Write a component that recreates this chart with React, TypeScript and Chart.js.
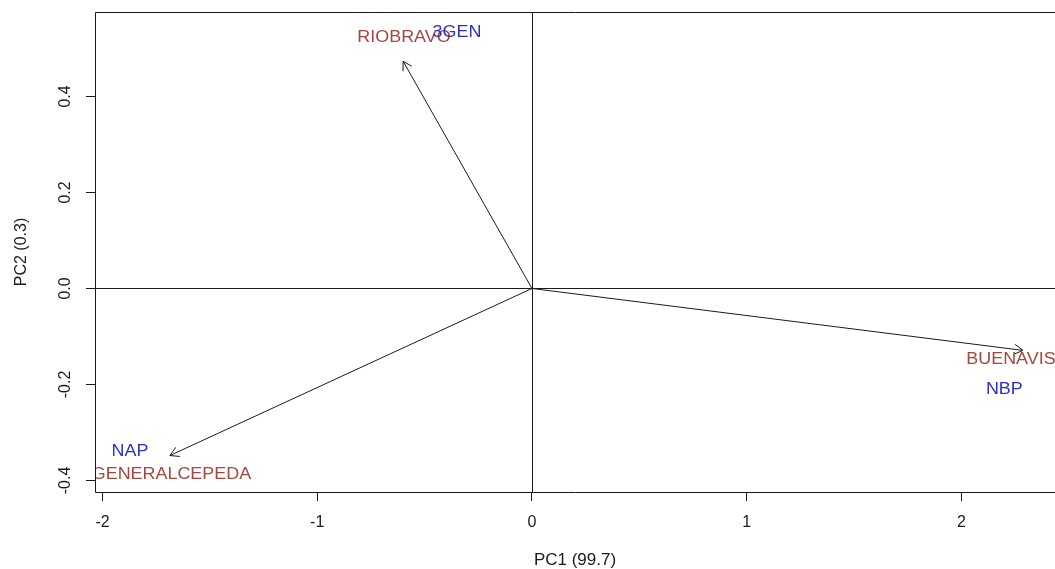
import React, { useEffect, useRef } from "react";
import { Chart, registerables } from "chart.js";

Chart.register(...registerables);

// Axis ranges and ticks
const xMin = -2.035;
const xMax = 2.436;
const yMin = -0.424;
const yMax = 0.576;
const xTicks = [-2, -1, 0, 1, 2];
const xTickLabels = ["-2", "-1", "0", "1", "2"];
const yTicks = [-0.4, -0.2, 0, 0.2, 0.4];
const yTickLabels = ["-0.4", "-0.2", "0.0", "0.2", "0.4"];
const xTitle = "PC1 (99.7)";
const yTitle = "PC2 (0.3)";

// Variables (arrows, brown labels)
const varNames = ["RIOBRAVO", "BUENAVISTA", "GENERALCEPEDA"];
const varX = [-0.6, 2.287, -1.686];
const varY = [0.4735, -0.129, -0.348];
const varLabelX = [-0.596, 2.281, -1.679];
const varLabelY = [0.525, -0.146, -0.386];

// Genotypes (blue labels)
const genoNames = ["3GEN", "NAP", "NBP"];
const genoX = [-0.349, -1.872, 2.2];
const genoY = [0.536, -0.3375, -0.208];

const FONT = "'Liberation Sans', Arial, Helvetica, sans-serif";
const BROWN = "#A5463F";
const BLUE = "#2F2FC0";
const INK = "#1a1a1a";
const STRETCH = 1.12;

const biplotPlugin = {
  id: "biplot",
  beforeDatasetsDraw(chart: any) {
    const { ctx, chartArea: a, scales } = chart;
    const x0 = scales.x.getPixelForValue(0);
    const y0 = scales.y.getPixelForValue(0);
    ctx.save();
    ctx.strokeStyle = INK;
    ctx.lineWidth = 1;
    ctx.beginPath();
    ctx.moveTo(Math.round(x0) + 0.5, a.top);
    ctx.lineTo(Math.round(x0) + 0.5, a.bottom);
    ctx.moveTo(a.left, Math.round(y0) + 0.5);
    ctx.lineTo(a.right, Math.round(y0) + 0.5);
    ctx.stroke();
    ctx.restore();
  },
  afterDatasetsDraw(chart: any) {
    const { ctx, chartArea: a, scales } = chart;
    const sx = scales.x;
    const sy = scales.y;
    const ox = sx.getPixelForValue(0);
    const oy = sy.getPixelForValue(0);

    ctx.save();
    ctx.beginPath();
    ctx.rect(a.left, a.top, a.right - a.left, a.bottom - a.top);
    ctx.clip();

    // arrowheads
    ctx.strokeStyle = INK;
    ctx.lineWidth = 1;
    const headLen = 10;
    const ang = Math.PI / 6;
    varNames.forEach((_, i) => {
      const px = sx.getPixelForValue(varX[i]);
      const py = sy.getPixelForValue(varY[i]);
      const th = Math.atan2(py - oy, px - ox);
      ctx.beginPath();
      ctx.moveTo(px - headLen * Math.cos(th - ang), py - headLen * Math.sin(th - ang));
      ctx.lineTo(px, py);
      ctx.lineTo(px - headLen * Math.cos(th + ang), py - headLen * Math.sin(th + ang));
      ctx.stroke();
    });

    const drawLabel = (text: string, vx: number, vy: number, color: string) => {
      const px = sx.getPixelForValue(vx);
      const py = sy.getPixelForValue(vy);
      ctx.save();
      ctx.translate(px, py + 0.358 * 16);
      ctx.scale(STRETCH, 1);
      ctx.font = `16px ${FONT}`;
      ctx.fillStyle = color;
      ctx.textAlign = "center";
      ctx.textBaseline = "alphabetic";
      ctx.fillText(text, 0, 0);
      ctx.restore();
    };

    varNames.forEach((n, i) => drawLabel(n, varLabelX[i], varLabelY[i], BROWN));
    genoNames.forEach((n, i) => drawLabel(n, genoX[i], genoY[i], BLUE));
    ctx.restore();

    // box
    ctx.save();
    ctx.strokeStyle = INK;
    ctx.lineWidth = 1;
    const l = Math.round(a.left) + 0.5;
    const t = Math.round(a.top) + 0.5;
    const b = Math.round(a.bottom) + 0.5;
    ctx.beginPath();
    ctx.moveTo(a.right + 5, t);
    ctx.lineTo(l, t);
    ctx.lineTo(l, b);
    ctx.lineTo(a.right + 5, b);
    ctx.stroke();

    // y tick labels (rotated, parallel to axis)
    ctx.font = `16px ${FONT}`;
    ctx.fillStyle = INK;
    ctx.textAlign = "center";
    ctx.textBaseline = "alphabetic";
    yTicks.forEach((v, i) => {
      const py = sy.getPixelForValue(v);
      ctx.save();
      ctx.translate(64 + 0.358 * 16, py);
      ctx.rotate(-Math.PI / 2);
      ctx.fillText(yTickLabels[i], 0, 0);
      ctx.restore();
    });
    ctx.restore();
  },
};

export default function App() {
  const ref = useRef<HTMLCanvasElement | null>(null);

  useEffect(() => {
    if (!ref.current) return;
    const datasets: any[] = varNames.map((n, i) => ({
      label: n,
      data: [
        { x: 0, y: 0 },
        { x: varX[i], y: varY[i] },
      ],
      showLine: true,
      borderColor: INK,
      borderWidth: 1,
      pointRadius: 0,
      pointHoverRadius: 0,
      fill: false,
    }));
    datasets.push({
      label: "genotypes",
      data: genoX.map((x, i) => ({ x, y: genoY[i] })),
      showLine: false,
      pointRadius: 0,
      pointHoverRadius: 0,
    });

    const chart = new Chart(ref.current, {
      type: "scatter",
      data: { datasets },
      options: {
        responsive: false,
        animation: false,
        layout: { padding: { top: 12, left: 0, right: 0, bottom: 0 } },
        plugins: {
          legend: { display: false },
          tooltip: { enabled: false },
        },
        scales: {
          x: {
            type: "linear",
            min: xMin,
            max: xMax,
            afterBuildTicks: (s: any) => {
              s.ticks = xTicks.map((v) => ({ value: v }));
            },
            afterFit: (s: any) => {
              s.height = 77;
            },
            grid: {
              drawOnChartArea: false,
              drawTicks: true,
              tickLength: 9,
              color: INK,
              lineWidth: 1,
            },
            border: { display: false },
            ticks: {
              autoSkip: false,
              maxRotation: 0,
              minRotation: 0,
              padding: 12,
              color: INK,
              font: { family: FONT, size: 16 },
              callback: (v: any) => {
                const i = xTicks.indexOf(Number(v));
                return i >= 0 ? xTickLabels[i] : "";
              },
            },
            title: {
              display: true,
              text: xTitle,
              color: INK,
              font: { family: FONT, size: 17, lineHeight: 1 },
              padding: { top: 0, bottom: 0 },
            },
          },
          y: {
            type: "linear",
            min: yMin,
            max: yMax,
            afterBuildTicks: (s: any) => {
              s.ticks = yTicks.map((v) => ({ value: v }));
            },
            afterFit: (s: any) => {
              s.width = 95;
            },
            grid: {
              drawOnChartArea: false,
              drawTicks: true,
              tickLength: 9,
              color: INK,
              lineWidth: 1,
            },
            border: { display: false },
            ticks: { display: false },
            title: {
              display: true,
              text: yTitle,
              color: INK,
              font: { family: FONT, size: 16, lineHeight: 1.2 },
              padding: { top: 12, bottom: 0 },
            },
          },
        },
      },
      plugins: [biplotPlugin],
    });
    return () => chart.destroy();
  }, []);

  return (
    <div
      style={{
        position: "absolute",
        left: 0,
        top: 0,
        width: 1055,
        height: 569,
        background: "#ffffff",
        overflow: "hidden",
      }}
    >
      <canvas ref={ref} width={1055} height={569} style={{ display: "block" }} />
    </div>
  );
}
